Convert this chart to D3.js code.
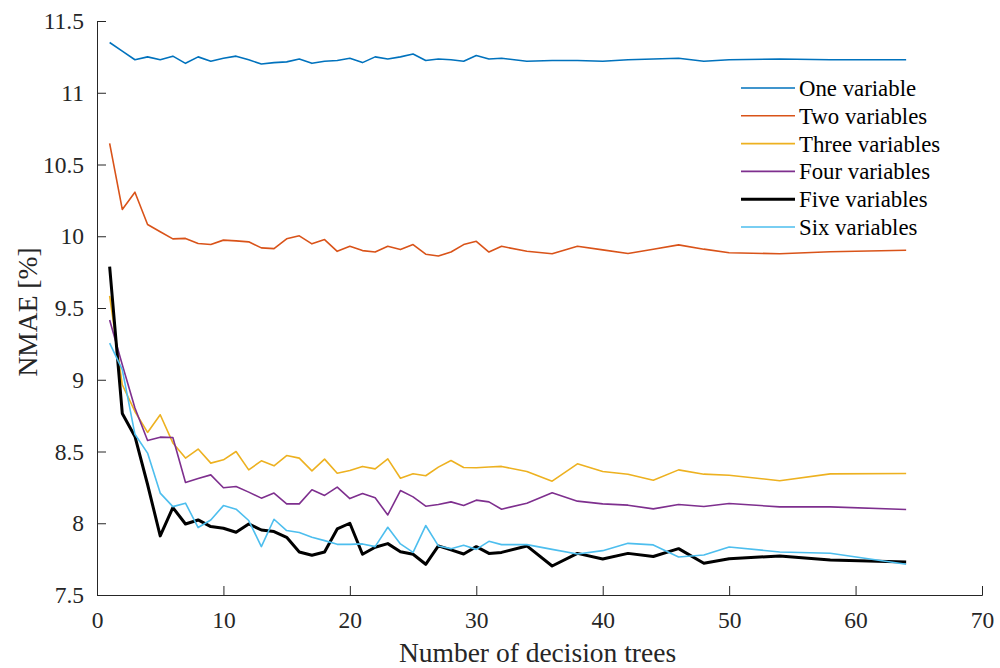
<!DOCTYPE html>
<html>
<head>
<meta charset="utf-8">
<script src="https://cdn.jsdelivr.net/npm/d3@7"></script>
<style>
  body { margin: 0; background: #fff; }
</style>
</head>
<body>
<svg id="chart"></svg>
<script>
// number of trees (x)
var trees = [1,2,3,4,5,6,7,8,9,10,11,12,13,14,15,16,17,18,19,20,21,22,23,24,25,26,27,28,29,30,31,32,
             34,36,38,40,42,44,46,48,50,54,58,64];

var oneVar = [11.35,11.29,11.23,11.25,11.23,11.255,11.205,11.25,11.22,11.24,11.255,11.23,11.20,11.21,11.215,11.235,
              11.205,11.22,11.225,11.24,11.21,11.25,11.235,11.25,11.27,11.225,11.235,11.23,11.22,11.26,11.235,11.24,
              11.22,11.225,11.225,11.22,11.23,11.235,11.24,11.22,11.23,11.235,11.23,11.23];
var twoVar = [10.647,10.187,10.307,10.082,10.031,9.982,9.985,9.949,9.942,9.973,9.968,9.961,9.919,9.914,9.982,10.003,
              9.947,9.977,9.895,9.93,9.90,9.89,9.93,9.907,9.942,9.875,9.862,9.89,9.942,9.965,9.89,9.93,
              9.895,9.878,9.93,9.905,9.88,9.91,9.94,9.91,9.885,9.878,9.892,9.902];
var threeVar = [9.585,8.965,8.779,8.633,8.756,8.56,8.454,8.517,8.419,8.442,8.50,8.372,8.435,8.40,8.472,8.454,
                8.365,8.447,8.349,8.367,8.396,8.379,8.449,8.314,8.345,8.331,8.391,8.437,8.389,8.387,8.392,8.396,
                8.361,8.293,8.414,8.361,8.342,8.30,8.372,8.342,8.335,8.296,8.344,8.347];
var fourVar = [9.417,9.105,8.803,8.577,8.6,8.598,8.284,8.312,8.337,8.247,8.256,8.217,8.175,8.21,8.135,8.135,
               8.233,8.194,8.252,8.172,8.207,8.177,8.058,8.228,8.184,8.119,8.131,8.149,8.124,8.161,8.149,8.098,
               8.14,8.212,8.154,8.135,8.126,8.10,8.131,8.117,8.138,8.114,8.114,8.096];
var fiveVar = [9.789,8.765,8.605,8.27,7.912,8.109,7.995,8.023,7.977,7.965,7.937,7.995,7.953,7.942,7.902,7.80,
               7.777,7.80,7.96,8.0,7.784,7.833,7.858,7.802,7.784,7.714,7.842,7.814,7.786,7.837,7.79,7.797,
               7.842,7.702,7.79,7.751,7.79,7.768,7.823,7.721,7.753,7.772,7.744,7.730];
var sixVar = [9.255,9.07,8.62,8.489,8.21,8.116,8.14,7.97,8.023,8.123,8.098,8.019,7.837,8.028,7.949,7.935,
              7.902,7.879,7.853,7.853,7.856,7.837,7.972,7.856,7.797,7.984,7.842,7.823,7.846,7.818,7.874,7.851,
              7.851,7.818,7.786,7.809,7.86,7.849,7.765,7.779,7.835,7.80,7.791,7.714];

var seriesNames = ["One variable","Two variables","Three variables","Four variables","Five variables","Six variables"];
var seriesColors = ["#0072BD","#D95319","#EDB120","#7E2F8E","#000000","#4DBEEE"];
var seriesWidths = [1.6,1.6,1.6,1.6,3,1.6];
var allSeries = [oneVar,twoVar,threeVar,fourVar,fiveVar,sixVar];

var xTicks = [0,10,20,30,40,50,60,70];
var yTicks = [7.5,8,8.5,9,9.5,10,10.5,11,11.5];

var serif = "'Liberation Serif','Times New Roman',Times,'DejaVu Serif',serif";

var screen = {width:1000,height:668};
var margins = {left:97,right:18,top:21,bottom:73};
var graph = {
    width: screen.width - margins.left - margins.right,
    height: screen.height - margins.top - margins.bottom
};

var svg = d3.select("#chart")
    .attr("width",screen.width)
    .attr("height",screen.height);

var xScale = d3.scaleLinear().domain([0,70]).range([0,graph.width]);
var yScale = d3.scaleLinear().domain([7.5,11.5]).range([graph.height,0]);

var g = svg.append("g")
    .attr("transform","translate("+margins.left+","+margins.top+")");

// axes, matlab style ticks pointing inward
var xAxis = d3.axisBottom(xScale).tickValues(xTicks).tickSize(-9).tickPadding(16).tickFormat(d3.format("d"));
var yAxis = d3.axisLeft(yScale).tickValues(yTicks).tickSize(-9).tickPadding(13).tickFormat(function(d){return String(d);});

var gx = g.append("g").attr("transform","translate(0,"+graph.height+")").call(xAxis);
var gy = g.append("g").call(yAxis);

[gx,gy].forEach(function(a)
{
    a.attr("font-family",null).attr("font-size",null);
    a.select(".domain").attr("stroke","#262626").attr("stroke-width",1);
    a.selectAll(".tick line").attr("stroke","#262626").attr("stroke-width",1);
    a.selectAll(".tick text")
     .style("font-family",serif)
     .style("font-size","23.5px")
     .attr("fill","#262626");
});

// lines
var line = d3.line()
    .x(function(d){return xScale(d[0]);})
    .y(function(d){return yScale(d[1]);});

allSeries.forEach(function(vals,i)
{
    var pts = trees.map(function(t,j){return [t,vals[j]];});
    g.append("path")
     .datum(pts)
     .attr("d",line)
     .attr("fill","none")
     .attr("stroke",seriesColors[i])
     .attr("stroke-width",seriesWidths[i])
     .attr("stroke-linejoin","round");
});

// legend
var legend = svg.append("g").attr("transform","translate(741,88)");
seriesNames.forEach(function(name,i)
{
    var row = legend.append("g").attr("transform","translate(0,"+(i*27.8)+")");
    row.append("line")
       .attr("x1",0).attr("x2",54).attr("y1",0).attr("y2",0)
       .attr("stroke",seriesColors[i])
       .attr("stroke-width",seriesWidths[i]);
    row.append("text")
       .attr("x",58).attr("y",0).attr("dy","0.35em")
       .attr("fill","#000")
       .style("font-family",serif)
       .style("font-size","22.8px")
       .text(name);
});

// axis titles
svg.append("text")
   .attr("x",margins.left+graph.width/2 - 2)
   .attr("y",662)
   .attr("text-anchor","middle")
   .attr("fill","#262626")
   .style("font-family",serif)
   .style("font-size","27.5px")
   .text("Number of decision trees");

svg.append("text")
   .attr("transform","translate(37,312) rotate(-90)")
   .attr("text-anchor","middle")
   .attr("fill","#262626")
   .style("font-family",serif)
   .style("font-size","27.5px")
   .text("NMAE [%]");
</script>
</body>
</html>
